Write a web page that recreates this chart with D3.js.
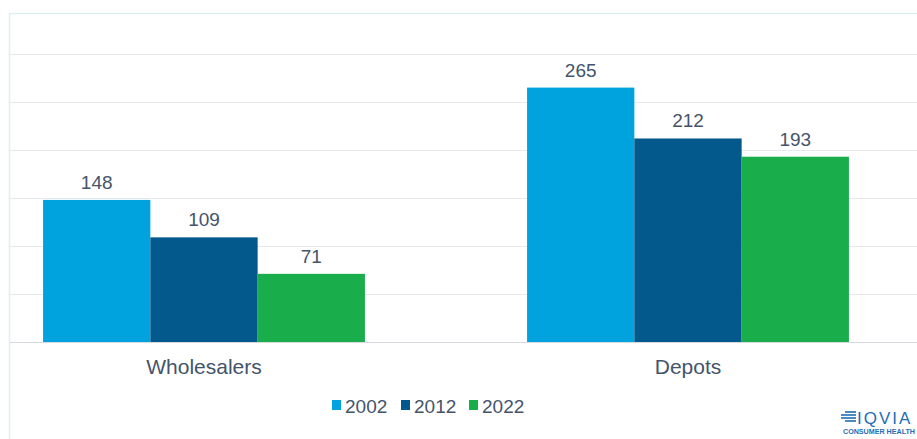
<!DOCTYPE html>
<html>
<head>
<meta charset="utf-8">
<script src="https://cdn.jsdelivr.net/npm/d3@7"></script>
<style>
  body { margin: 0; background: #fff; }
  svg { display: block; font-family: "Liberation Sans", Arial, sans-serif; }
</style>
</head>
<body>
<div id="chart"></div>
<script>
const categories = ['Wholesalers', 'Depots'];
const years = ['2002', '2012', '2022'];
const values2002 = [148, 265];
const values2012 = [109, 212];
const values2022 = [71, 193];
const yTicks = [0, 50, 100, 150, 200, 250, 300];

const series = [values2002, values2012, values2022];
const colors = ['#00a3de', '#03588c', '#1aad4b'];
const textColor = '#44546a';

const width = 917;
const height = 439;

const svg = d3.select('#chart')
  .append('svg')
  .attr('width', width)
  .attr('height', height);

// light outer frame of the plot area
svg.append('path')
  .attr('d', `M9.5,${height} V13.5 H${width}`)
  .attr('fill', 'none')
  .attr('stroke', '#dfeef2')
  .attr('stroke-width', 1.5);

const x0 = d3.scaleBand()
  .domain(categories)
  .range([-38, 930])
  .paddingInner(0.335)
  .paddingOuter(0.1675);

const x1 = d3.scaleBand()
  .domain(years)
  .range([0, x0.bandwidth()]);

const y = d3.scaleLinear()
  .domain([0, 300])
  .range([342, 54]);

// gridlines
svg.append('g')
  .selectAll('line')
  .data(yTicks)
  .enter()
  .append('line')
  .attr('x1', 10)
  .attr('x2', width)
  .attr('y1', d => Math.round(y(d)) + 0.5)
  .attr('y2', d => Math.round(y(d)) + 0.5)
  .attr('stroke', d => d === 0 ? '#d6d9dd' : '#e6e8eb')
  .attr('stroke-width', 1.2);

// bars
const groups = svg.append('g')
  .selectAll('g')
  .data(categories)
  .enter()
  .append('g')
  .attr('transform', d => `translate(${x0(d)},0)`);

groups.selectAll('rect')
  .data((c, i) => years.map((yr, j) => ({ year: yr, value: series[j][i], idx: j })))
  .enter()
  .append('rect')
  .attr('x', d => x1(d.year))
  .attr('y', d => y(d.value))
  .attr('width', x1.bandwidth())
  .attr('height', d => y(0) - y(d.value))
  .attr('fill', d => colors[d.idx]);

groups.selectAll('text')
  .data((c, i) => years.map((yr, j) => ({ year: yr, value: series[j][i] })))
  .enter()
  .append('text')
  .attr('x', d => x1(d.year) + x1.bandwidth() / 2)
  .attr('y', d => y(d.value) - 11)
  .attr('text-anchor', 'middle')
  .attr('fill', textColor)
  .style('font-size', '19px')
  .text(d => d.value);

// category labels
svg.append('g')
  .selectAll('text')
  .data(categories)
  .enter()
  .append('text')
  .attr('x', d => x0(d) + x0.bandwidth() / 2)
  .attr('y', 374)
  .attr('text-anchor', 'middle')
  .attr('fill', textColor)
  .style('font-size', '21px')
  .text(d => d);

// legend
const legendX = [332, 401, 469];
const legend = svg.append('g')
  .selectAll('g')
  .data(years)
  .enter()
  .append('g')
  .attr('transform', (d, i) => `translate(${legendX[i]},400)`);

legend.append('rect')
  .attr('width', 9)
  .attr('height', 10)
  .attr('fill', (d, i) => colors[i]);

legend.append('text')
  .attr('x', 13)
  .attr('y', 13)
  .attr('fill', textColor)
  .style('font-size', '19px')
  .text(d => d);

// logo
const logo = svg.append('g').attr('transform', 'translate(841,411)');
[0, 3, 6, 9].forEach((dy, i) => {
  logo.append('line')
    .attr('x1', i === 0 || i === 3 ? 4 : 0)
    .attr('x2', 15)
    .attr('y1', dy + 1)
    .attr('y2', dy + 1)
    .attr('stroke', '#1f6eb6')
    .attr('stroke-width', 1.6);
});
logo.append('text')
  .attr('x', 16)
  .attr('y', 12.5)
  .attr('fill', '#1f6eb6')
  .style('font-size', '17px')
  .style('letter-spacing', '2px')
  .text('IQVIA');
logo.append('text')
  .attr('x', 2)
  .attr('y', 22.5)
  .attr('fill', '#1f6eb6')
  .attr('textLength', 72)
  .attr('lengthAdjust', 'spacingAndGlyphs')
  .style('font-size', '7px')
  .style('font-weight', 'bold')
  .text('CONSUMER HEALTH');
</script>
</body>
</html>
